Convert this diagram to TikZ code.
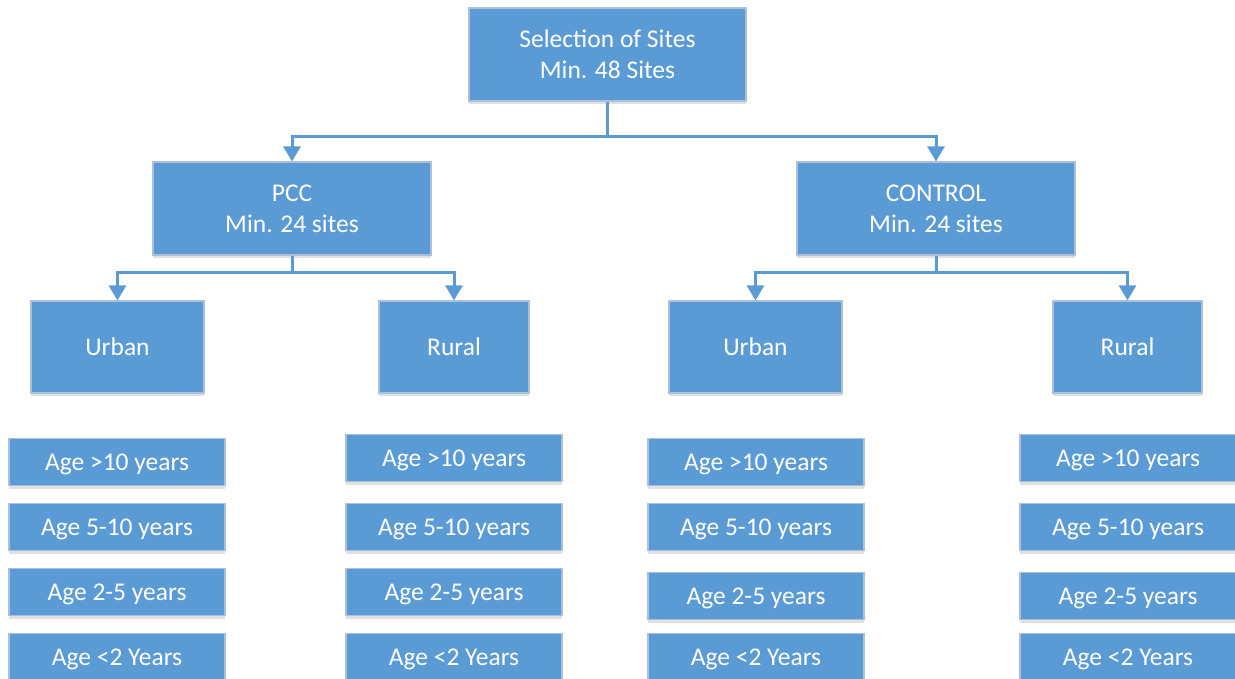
\documentclass[tikz,border=0pt]{standalone}
\usepackage{fontspec}
\setmainfont{Carlito}
\usetikzlibrary{arrows.meta}
\usetikzlibrary{shadows}
\definecolor{boxblue}{RGB}{91,155,213}
\definecolor{boxedge}{RGB}{172,192,218}

\begin{document}
\begin{tikzpicture}[x=1pt,y=-1pt,
    box/.style={rectangle,draw=boxedge,line width=1.2pt,fill=boxblue,
      text=white,align=center,inner sep=0pt,
      font=\fontsize{25.5}{31}\selectfont,
      drop shadow={shadow xshift=0pt,shadow yshift=-3pt,fill=black,opacity=0.12}},
    agebox/.style={box,minimum width=216pt,minimum height=47pt,text height=20pt,text depth=4pt},
    link/.style={draw=boxblue,line width=3pt,-{Triangle[width=17pt,length=15pt]}}
    ]
  \useasboundingbox (0,0) rectangle (1235,679);

  % levels
  \node[box,minimum width=277pt,minimum height=93pt] (sel) at (607.5,54.5) {Selection of Sites\\Min. 48 Sites};
  \node[box,minimum width=278pt,minimum height=93pt] (pcc) at (292,208.5) {PCC\\Min. 24 sites};
  \node[box,minimum width=278pt,minimum height=93pt] (ctl) at (936,208.5) {CONTROL\\Min. 24 sites};

  \node[box,minimum width=173pt,minimum height=92pt] (pccurban) at (117.5,347) {Urban};
  \node[box,minimum width=150pt,minimum height=92pt] (pccrural) at (454,347) {Rural};
  \node[box,minimum width=173pt,minimum height=92pt] (ctlurban) at (755.5,347) {Urban};
  \node[box,minimum width=149pt,minimum height=92pt] (ctlrural) at (1127.5,347) {Rural};

  % connectors
  \draw[link] (sel.south) -- ++(0,35) -| (pcc.north);
  \draw[link] (sel.south) -- ++(0,35) -| (ctl.north);
  \draw[link] (pcc.south) -- ++(0,17) -| (pccurban.north);
  \draw[link] (pcc.south) -- ++(0,17) -| (pccrural.north);
  \draw[link] (ctl.south) -- ++(0,17) -| (ctlurban.north);
  \draw[link] (ctl.south) -- ++(0,17) -| (ctlrural.north);

  % age groups
  \node[agebox] (pu1) at (117,462) {Age >10 years};
  \node[agebox] (pu2) at (117,527) {Age 5-10 years};
  \node[agebox] (pu3) at (117,592) {Age 2-5 years};
  \node[agebox] (pu4) at (117,657) {Age <2 Years};

  \node[agebox] (pr1) at (454,458) {Age >10 years};
  \node[agebox] (pr2) at (454,527) {Age 5-10 years};
  \node[agebox] (pr3) at (454,592) {Age 2-5 years};
  \node[agebox] (pr4) at (454,657) {Age <2 Years};

  \node[agebox] (cu1) at (756,462) {Age >10 years};
  \node[agebox] (cu2) at (756,527) {Age 5-10 years};
  \node[agebox] (cu3) at (756,596) {Age 2-5 years};
  \node[agebox] (cu4) at (756,657) {Age <2 Years};

  \node[agebox] (cr1) at (1128,458) {Age >10 years};
  \node[agebox] (cr2) at (1128,527) {Age 5-10 years};
  \node[agebox] (cr3) at (1128,596) {Age 2-5 years};
  \node[agebox] (cr4) at (1128,657) {Age <2 Years};
\end{tikzpicture}
\end{document}
